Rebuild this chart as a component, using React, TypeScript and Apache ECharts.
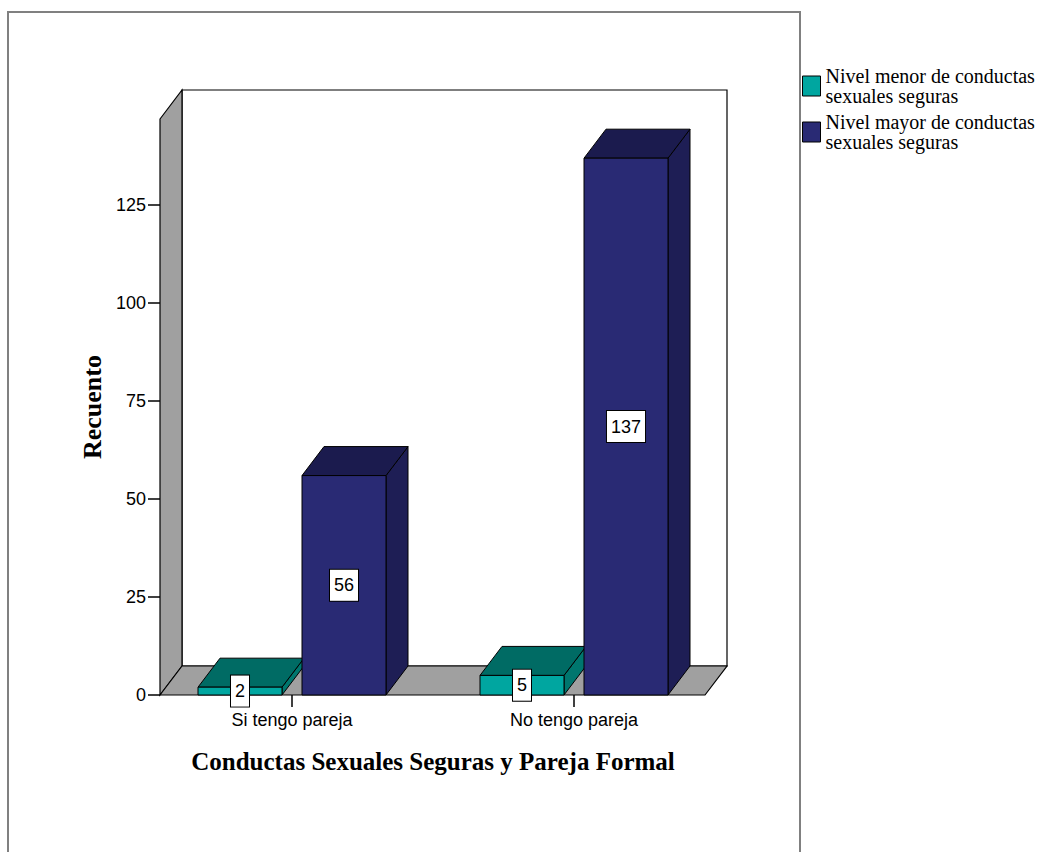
import React, { useEffect, useRef } from "react";
import * as echarts from "echarts";

// Category labels, series names and counts
const categories = ["Si tengo pareja", "No tengo pareja"];
const seriesNames = [
  "Nivel menor de conductas sexuales seguras",
  "Nivel mayor de conductas sexuales seguras",
];
const menorValues = [2, 5];
const mayorValues = [56, 137];
const yTicks = [0, 25, 50, 75, 100, 125];

// Pseudo-3D geometry (pixels)
const DX = 22;
const DY = -29;
const BAR_W = 84;
const BAR_GAP = 10;

const SANS = '"Liberation Sans", Arial, sans-serif';
const SERIF = '"Liberation Serif", "Times New Roman", serif';

const MENOR = { front: "#00A6A0", top: "#006B64", side: "#00766E" };
const MAYOR = { front: "#292A74", top: "#1B1B4E", side: "#1E1E55" };

function barRenderer(side: number, colors: { front: string; top: string; side: string }) {
  return (_params: any, api: any) => {
    const cat = api.value(0);
    const v = api.value(1);
    const [cx, y0] = api.coord([cat, 0]);
    const yTop = api.coord([cat, v])[1];
    const x0 = side < 0 ? cx - BAR_GAP - BAR_W : cx + BAR_GAP;
    const x1 = x0 + BAR_W;
    const edge = { stroke: "#000", lineWidth: 1 };
    return {
      type: "group",
      children: [
        {
          type: "polygon",
          shape: { points: [[x1, yTop], [x1 + DX, yTop + DY], [x1 + DX, y0 + DY], [x1, y0]] },
          style: { fill: colors.side, ...edge },
        },
        {
          type: "polygon",
          shape: { points: [[x0, yTop], [x0 + DX, yTop + DY], [x1 + DX, yTop + DY], [x1, yTop]] },
          style: { fill: colors.top, ...edge },
        },
        {
          type: "rect",
          shape: { x: x0, y: yTop, width: BAR_W, height: y0 - yTop },
          style: { fill: colors.front, ...edge },
        },
        {
          type: "text",
          x: (x0 + x1) / 2,
          y: (yTop + y0) / 2,
          z2: 10,
          style: {
            text: String(v),
            align: "center",
            verticalAlign: "middle",
            fontSize: 18,
            fontFamily: SANS,
            fill: "#000",
            backgroundColor: "#fff",
            borderColor: "#000",
            borderWidth: 1,
            padding: [7, 4, 6, 4],
          },
        },
      ],
    };
  };
}

// Back wall, side wall and floor of the chart box
function wallsRenderer(params: any) {
  const cs = params.coordSys;
  const fl = cs.x + 9;
  const fr = cs.x + cs.width - 10;
  const ft = cs.y;
  const fb = cs.y + cs.height;
  const edge = { stroke: "#000", lineWidth: 1.2 };
  return {
    type: "group",
    children: [
      {
        type: "rect",
        shape: { x: fl + DX, y: ft + DY, width: fr - fl, height: fb - ft },
        style: { fill: "#fff", ...edge },
      },
      {
        type: "polygon",
        shape: { points: [[fl, ft], [fl + DX, ft + DY], [fl + DX, fb + DY], [fl, fb]] },
        style: { fill: "#A0A0A0", ...edge },
      },
      {
        type: "polygon",
        shape: { points: [[fl, fb], [fl + DX, fb + DY], [fr + DX, fb + DY], [fr, fb]] },
        style: { fill: "#A0A0A0", ...edge },
      },
    ],
  };
}

export default function App() {
  const ref = useRef<HTMLDivElement>(null);

  useEffect(() => {
    if (!ref.current) return;
    const chart = echarts.init(ref.current, null, { renderer: "svg" });
    chart.setOption({
      animation: false,
      backgroundColor: "#fff",
      graphic: [
        {
          type: "rect",
          z: 0,
          shape: { x: 8, y: 12, width: 792, height: 900 },
          style: { fill: "none", stroke: "#808080", lineWidth: 2 },
        },
      ],
      grid: { left: 151, top: 119, width: 564, height: 576 },
      legend: {
        data: seriesNames,
        orient: "vertical",
        left: 802,
        top: 66,
        padding: 0,
        itemWidth: 18,
        itemHeight: 20,
        itemGap: 6,
        icon: "rect",
        itemStyle: { borderColor: "#000", borderWidth: 1 },
        formatter: (name: string) => name.replace(" sexuales", "\nsexuales"),
        textStyle: { fontFamily: SERIF, fontSize: 20, lineHeight: 20, color: "#000" },
      },
      xAxis: {
        type: "category",
        data: categories,
        axisLine: { show: false },
        axisTick: { show: true, alignWithLabel: true, length: 12, lineStyle: { color: "#000", width: 1.5 } },
        axisLabel: { margin: 16, fontSize: 18, fontFamily: SANS, color: "#000" },
        splitLine: { show: false },
        name: "Conductas Sexuales Seguras y Pareja Formal",
        nameLocation: "middle",
        nameGap: 54,
        nameTextStyle: { fontFamily: SERIF, fontWeight: "bold", fontSize: 25, color: "#000" },
      },
      yAxis: {
        type: "value",
        min: 0,
        max: 147,
        offset: -9,
        axisLine: { show: false },
        splitLine: { show: false },
        axisTick: { show: true, length: 12, customValues: yTicks, lineStyle: { color: "#000", width: 1.5 } },
        axisLabel: { customValues: yTicks, margin: 14, fontSize: 18, fontFamily: SANS, color: "#000" },
        name: "Recuento",
        nameLocation: "middle",
        nameGap: 55,
        nameRotate: 90,
        nameTextStyle: { fontFamily: SERIF, fontWeight: "bold", fontSize: 26, color: "#000" },
      },
      series: [
        {
          type: "custom",
          name: "walls",
          z: 1,
          silent: true,
          renderItem: wallsRenderer,
          data: [[0, 0]],
        },
        {
          type: "custom",
          name: seriesNames[0],
          z: 2,
          itemStyle: { color: MENOR.front },
          renderItem: barRenderer(-1, MENOR),
          data: menorValues.map((v, i) => [i, v]),
        },
        {
          type: "custom",
          name: seriesNames[1],
          z: 3,
          itemStyle: { color: MAYOR.front },
          renderItem: barRenderer(1, MAYOR),
          data: mayorValues.map((v, i) => [i, v]),
        },
      ],
    });
    return () => chart.dispose();
  }, []);

  return (
    <div
      ref={ref}
      style={{ position: "fixed", left: 0, top: 0, width: 1043, height: 852, background: "#fff" }}
    />
  );
}
